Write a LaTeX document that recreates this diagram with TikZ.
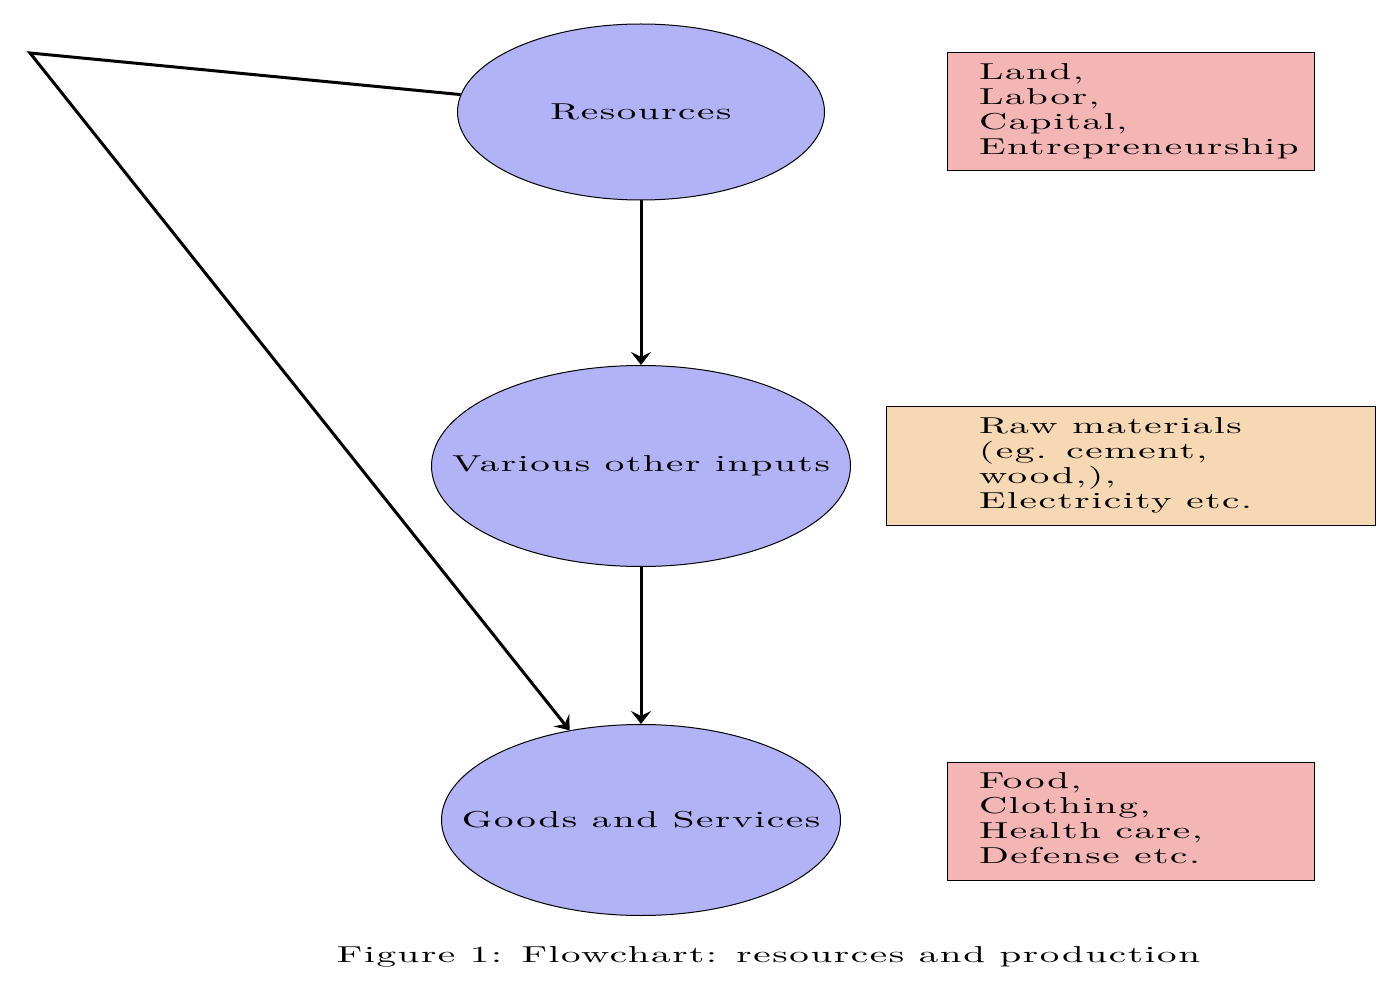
\documentclass[tikz,border=0pt]{standalone}
\usepackage{fontspec}
\setmainfont{lmroman10-regular.otf}[FakeStretch=1.7,LetterSpace=7]
\usetikzlibrary{shapes.geometric,arrows.meta}
\definecolor{ellfill}{RGB}{178,178,246}
\definecolor{pinkfill}{RGB}{244,181,181}
\definecolor{tanfill}{RGB}{247,216,181}
\newcommand{\boxlines}[1]{\makebox[151.5pt][l]{\begin{tabular}{@{}l@{}}#1\end{tabular}}}
\begin{document}
\begin{tikzpicture}[x=0.5pt,y=-0.5pt,
  every node/.style={font=\fontsize{11.5}{12.5}\selectfont},
  ell/.style={ellipse,draw=black,line width=0.5pt,fill=ellfill,inner sep=0pt},
  infobox/.style={rectangle,draw=black,line width=0.5pt,minimum height=59pt,inner ysep=0pt},
  conn/.style={line width=1.5pt,-{Stealth[length=6.5pt,width=10pt,inset=2.5pt]}}]
\useasboundingbox (0,0) rectangle (1393,1000);
\node[ell,minimum width=183.5pt,minimum height=88pt] (res) at (641,112) {\makebox[0pt]{Resources}};
\node[ell,minimum width=209.5pt,minimum height=100.5pt] (inp) at (641,466) {\makebox[0pt]{Various other inputs}};
\node[ell,minimum width=199.5pt,minimum height=95.5pt] (goods) at (641,820) {\makebox[0pt]{Goods and Services}};
\node[infobox,fill=pinkfill,inner xsep=16pt] (b1) at (1130.5,112) {\boxlines{Land,\\Labor,\\Capital,\\Entrepreneurship}};
\node[infobox,fill=tanfill,inner xsep=46.5pt] (b2) at (1130.5,466) {\boxlines{Raw materials\\(eg. cement,\\wood,),\\Electricity etc.}};
\node[infobox,fill=pinkfill,inner xsep=16pt] (b3) at (1130.5,821) {\boxlines{Food,\\Clothing,\\Health care,\\Defense etc.}};
\coordinate (corner) at (30,53);
\draw[conn] (res) -- (inp);
\draw[conn] (inp) -- (goods);
\draw[conn] (res) -- (corner) -- (goods);
\node (cap) at (768.5,957) {Figure 1: Flowchart: resources and production};
\end{tikzpicture}
\end{document}
